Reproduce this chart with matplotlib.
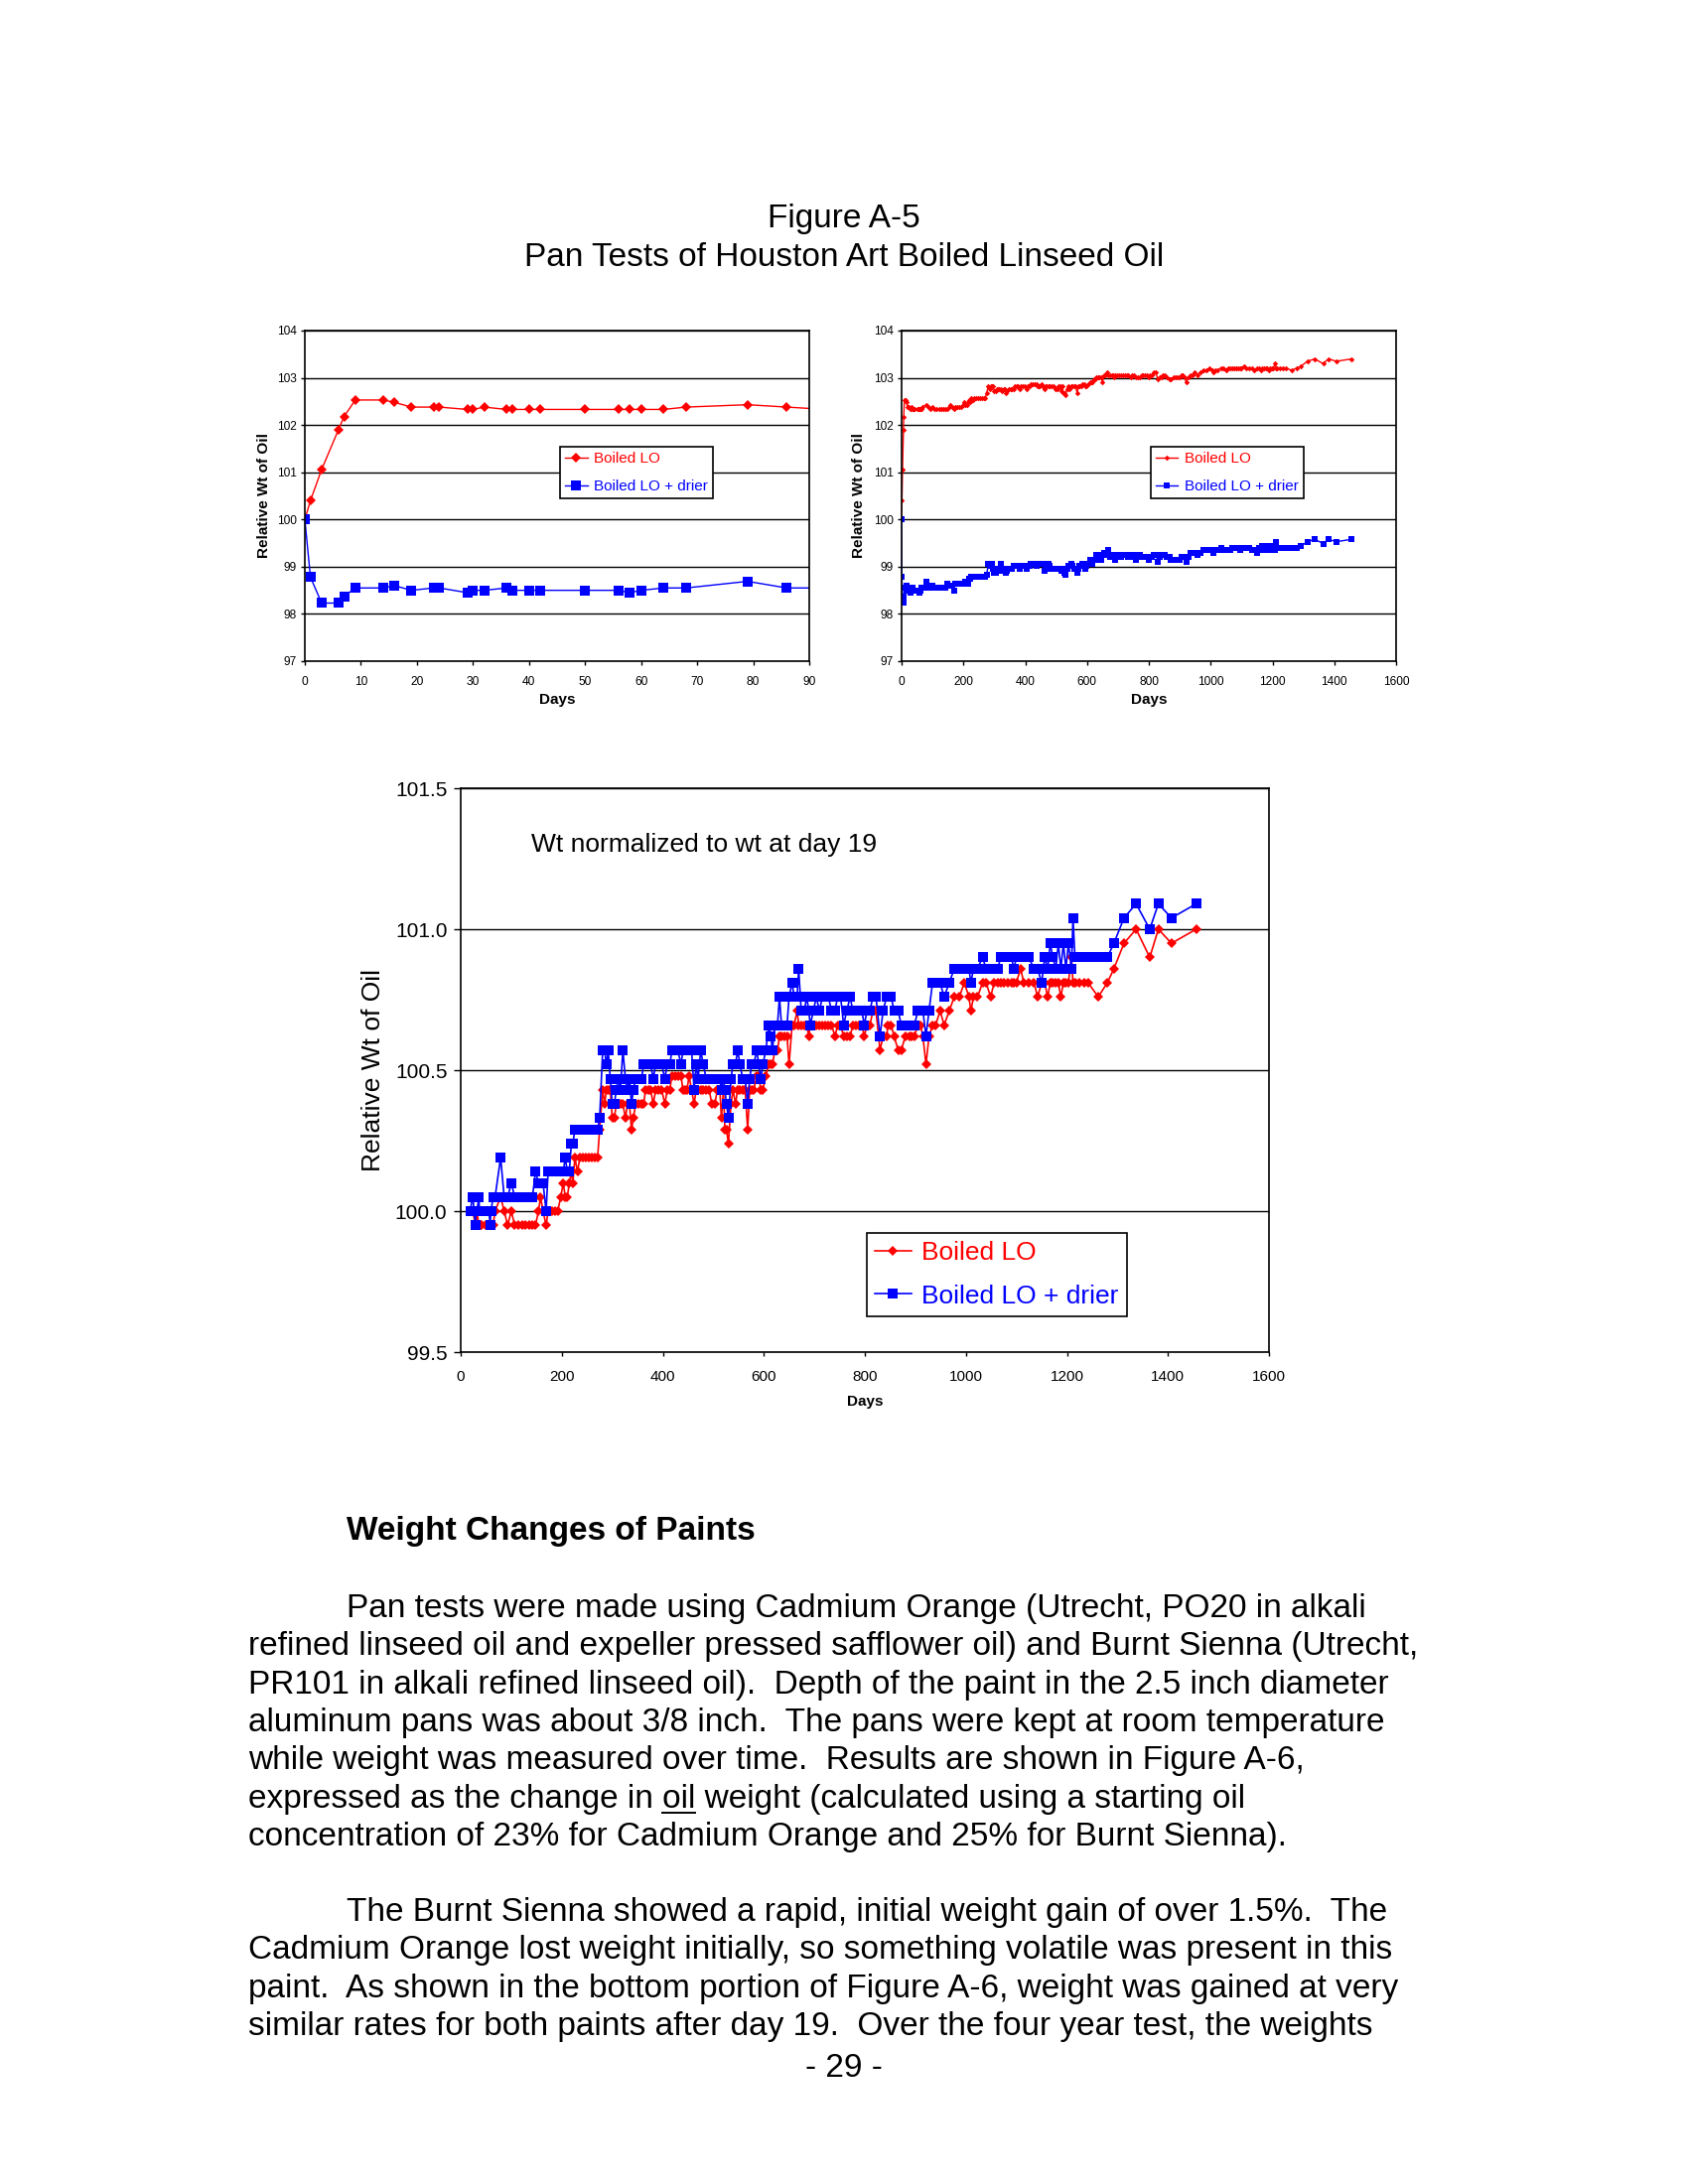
import matplotlib
matplotlib.use('Agg')
import matplotlib.pyplot as plt
from matplotlib.lines import Line2D

plt.rcParams['font.family'] = ['Liberation Sans', 'DejaVu Sans']

# early readings (days 0-16), only in the top charts
days_early = [0, 1, 3, 6, 7, 9, 14, 16]
red_early = [100.0, 100.40, 101.06, 101.90, 102.18, 102.53, 102.53, 102.48]
blue_early = [100.0, 98.78, 98.23, 98.23, 98.37, 98.55, 98.55, 98.60]

# readings from day 19 on
days = [
    19, 23, 24, 29, 30, 32, 36, 37, 40, 42,
    50, 56, 58, 60, 64, 68, 79, 86, 93, 100,
    107, 114, 121, 128, 135, 142, 148, 154, 158, 163,
    169, 173, 180, 186, 192, 198, 203, 207, 211, 215,
    219, 222, 226, 231, 236, 242, 248, 254, 260, 266,
    271, 275, 281, 285, 288, 292, 296, 300, 304, 308,
    312, 316, 321, 326, 330, 334, 338, 342, 346, 352,
    358, 362, 366, 372, 376, 381, 386, 392, 398, 404,
    409, 414, 418, 424, 430, 436, 440, 444, 448, 452,
    457, 462, 466, 470, 475, 480, 486, 492, 497, 503,
    508, 513, 516, 520, 523, 526, 530, 535, 539, 544,
    548, 553, 558, 563, 568, 572, 576, 580, 586, 590,
    594, 598, 604, 610, 614, 617, 622, 627, 631, 635,
    640, 646, 650, 656, 660, 666, 669, 674, 680, 685,
    689, 692, 698, 704, 710, 716, 722, 728, 734, 741,
    746, 752, 758, 764, 771, 776, 782, 788, 794, 799,
    804, 810, 816, 822, 830, 836, 843, 846, 852, 858,
    866, 872, 880, 888, 893, 898, 905, 910, 915, 921,
    927, 934, 940, 949, 957, 967, 977, 987, 997, 1006,
    1010, 1015, 1023, 1033, 1040, 1049, 1056, 1063, 1069, 1076,
    1083, 1090, 1095, 1100, 1108, 1115, 1124, 1135, 1142, 1150,
    1156, 1162, 1167, 1172, 1178, 1183, 1188, 1193, 1198, 1203,
    1209, 1212, 1216, 1225, 1234, 1242, 1262, 1280, 1293, 1313,
    1337, 1364, 1381, 1407, 1456,
]

# relative weight of oil (top charts)
red_raw = [
    102.38, 102.38, 102.38, 102.33, 102.33, 102.38, 102.33, 102.33, 102.33, 102.33,
    102.33, 102.33, 102.33, 102.33, 102.33, 102.38, 102.43, 102.38, 102.33, 102.38,
    102.33, 102.33, 102.33, 102.33, 102.33, 102.33, 102.33, 102.38, 102.43, 102.38,
    102.33, 102.38, 102.38, 102.38, 102.38, 102.43, 102.48, 102.43, 102.43, 102.48,
    102.52, 102.48, 102.57, 102.52, 102.57, 102.57, 102.57, 102.57, 102.57, 102.57,
    102.57, 102.68, 102.82, 102.77, 102.82, 102.82, 102.82, 102.72, 102.72, 102.77,
    102.77, 102.77, 102.77, 102.72, 102.77, 102.77, 102.68, 102.72, 102.77, 102.77,
    102.77, 102.77, 102.82, 102.82, 102.82, 102.77, 102.82, 102.82, 102.82, 102.77,
    102.82, 102.82, 102.87, 102.87, 102.87, 102.87, 102.82, 102.82, 102.82, 102.87,
    102.82, 102.77, 102.82, 102.82, 102.82, 102.82, 102.82, 102.82, 102.77, 102.77,
    102.82, 102.82, 102.72, 102.82, 102.68, 102.68, 102.63, 102.77, 102.82, 102.77,
    102.82, 102.82, 102.82, 102.82, 102.68, 102.82, 102.82, 102.82, 102.87, 102.87,
    102.82, 102.82, 102.87, 102.91, 102.91, 102.91, 102.96, 102.96, 103.01, 103.01,
    103.01, 103.01, 102.91, 103.06, 103.06, 103.11, 103.06, 103.06, 103.06, 103.06,
    103.01, 103.06, 103.06, 103.06, 103.06, 103.06, 103.06, 103.06, 103.06, 103.01,
    103.06, 103.06, 103.01, 103.01, 103.01, 103.06, 103.06, 103.06, 103.06, 103.01,
    103.06, 103.06, 103.11, 103.11, 102.96, 103.01, 103.01, 103.06, 103.06, 103.01,
    102.96, 102.96, 103.01, 103.01, 103.01, 103.01, 103.06, 103.06, 103.01, 102.91,
    103.01, 103.06, 103.06, 103.11, 103.06, 103.11, 103.16, 103.16, 103.21, 103.16,
    103.11, 103.16, 103.16, 103.21, 103.21, 103.16, 103.21, 103.21, 103.21, 103.21,
    103.21, 103.21, 103.21, 103.21, 103.25, 103.21, 103.21, 103.21, 103.16, 103.21,
    103.21, 103.16, 103.21, 103.21, 103.21, 103.21, 103.16, 103.21, 103.21, 103.21,
    103.30, 103.21, 103.21, 103.21, 103.21, 103.21, 103.16, 103.21, 103.25, 103.35,
    103.40, 103.30, 103.40, 103.35, 103.40,
]
blue_raw = [
    98.50, 98.55, 98.55, 98.45, 98.50, 98.50, 98.55, 98.50, 98.50, 98.50,
    98.50, 98.50, 98.45, 98.50, 98.55, 98.55, 98.69, 98.55, 98.55, 98.60,
    98.55, 98.55, 98.55, 98.55, 98.55, 98.55, 98.64, 98.60, 98.60, 98.60,
    98.50, 98.64, 98.64, 98.64, 98.64, 98.64, 98.64, 98.69, 98.64, 98.64,
    98.74, 98.74, 98.79, 98.79, 98.79, 98.79, 98.79, 98.79, 98.79, 98.79,
    98.79, 98.83, 99.06, 99.06, 99.01, 99.06, 98.96, 98.87, 98.87, 98.92,
    98.96, 98.92, 99.06, 98.96, 98.92, 98.96, 98.87, 98.92, 98.96, 98.96,
    98.96, 99.01, 99.01, 99.01, 99.01, 98.96, 99.01, 99.01, 99.01, 98.96,
    99.01, 99.01, 99.06, 99.06, 99.06, 99.01, 99.06, 99.06, 99.06, 99.06,
    99.06, 98.92, 99.01, 98.96, 99.06, 99.01, 98.96, 98.96, 98.96, 98.96,
    98.96, 98.96, 98.92, 98.96, 98.92, 98.87, 98.83, 98.96, 99.01, 99.01,
    99.06, 99.01, 98.96, 98.96, 98.87, 98.96, 99.01, 99.01, 99.06, 99.01,
    98.96, 99.01, 99.06, 99.15, 99.11, 99.06, 99.15, 99.15, 99.25, 99.15,
    99.15, 99.15, 99.25, 99.30, 99.25, 99.25, 99.35, 99.20, 99.20, 99.25,
    99.20, 99.15, 99.20, 99.25, 99.20, 99.25, 99.25, 99.25, 99.20, 99.20,
    99.25, 99.25, 99.15, 99.20, 99.25, 99.20, 99.20, 99.20, 99.20, 99.15,
    99.20, 99.20, 99.25, 99.25, 99.11, 99.20, 99.25, 99.25, 99.25, 99.20,
    99.20, 99.15, 99.15, 99.15, 99.15, 99.15, 99.20, 99.20, 99.20, 99.11,
    99.20, 99.30, 99.30, 99.30, 99.25, 99.30, 99.35, 99.35, 99.35, 99.35,
    99.30, 99.35, 99.35, 99.39, 99.35, 99.35, 99.35, 99.35, 99.39, 99.39,
    99.39, 99.39, 99.35, 99.39, 99.39, 99.39, 99.39, 99.35, 99.35, 99.30,
    99.39, 99.35, 99.44, 99.39, 99.35, 99.44, 99.35, 99.44, 99.35, 99.44,
    99.35, 99.53, 99.39, 99.39, 99.39, 99.39, 99.39, 99.39, 99.44, 99.53,
    99.58, 99.49, 99.58, 99.53, 99.58,
]

# weight normalized to day 19 (bottom chart)
red_norm = [
    100.00, 100.00, 100.00, 99.95, 99.95, 100.00, 99.95, 99.95, 99.95, 99.95,
    99.95, 99.95, 99.95, 99.95, 99.95, 100.00, 100.05, 100.00, 99.95, 100.00,
    99.95, 99.95, 99.95, 99.95, 99.95, 99.95, 99.95, 100.00, 100.05, 100.00,
    99.95, 100.00, 100.00, 100.00, 100.00, 100.05, 100.10, 100.05, 100.05, 100.10,
    100.14, 100.10, 100.19, 100.14, 100.19, 100.19, 100.19, 100.19, 100.19, 100.19,
    100.19, 100.29, 100.43, 100.38, 100.43, 100.43, 100.43, 100.33, 100.33, 100.38,
    100.38, 100.38, 100.38, 100.33, 100.38, 100.38, 100.29, 100.33, 100.38, 100.38,
    100.38, 100.38, 100.43, 100.43, 100.43, 100.38, 100.43, 100.43, 100.43, 100.38,
    100.43, 100.43, 100.48, 100.48, 100.48, 100.48, 100.43, 100.43, 100.43, 100.48,
    100.43, 100.38, 100.43, 100.43, 100.43, 100.43, 100.43, 100.43, 100.38, 100.38,
    100.43, 100.43, 100.33, 100.43, 100.29, 100.29, 100.24, 100.38, 100.43, 100.38,
    100.43, 100.43, 100.43, 100.43, 100.29, 100.43, 100.43, 100.43, 100.48, 100.48,
    100.43, 100.43, 100.48, 100.52, 100.52, 100.52, 100.57, 100.57, 100.62, 100.62,
    100.62, 100.62, 100.52, 100.66, 100.66, 100.71, 100.66, 100.66, 100.66, 100.66,
    100.62, 100.66, 100.66, 100.66, 100.66, 100.66, 100.66, 100.66, 100.66, 100.62,
    100.66, 100.66, 100.62, 100.62, 100.62, 100.66, 100.66, 100.66, 100.66, 100.62,
    100.66, 100.66, 100.71, 100.71, 100.57, 100.62, 100.62, 100.66, 100.66, 100.62,
    100.57, 100.57, 100.62, 100.62, 100.62, 100.62, 100.66, 100.66, 100.62, 100.52,
    100.62, 100.66, 100.66, 100.71, 100.66, 100.71, 100.76, 100.76, 100.81, 100.76,
    100.71, 100.76, 100.76, 100.81, 100.81, 100.76, 100.81, 100.81, 100.81, 100.81,
    100.81, 100.81, 100.81, 100.81, 100.86, 100.81, 100.81, 100.81, 100.76, 100.81,
    100.81, 100.76, 100.81, 100.81, 100.81, 100.81, 100.76, 100.81, 100.81, 100.81,
    100.90, 100.81, 100.81, 100.81, 100.81, 100.81, 100.76, 100.81, 100.86, 100.95,
    101.00, 100.90, 101.00, 100.95, 101.00,
]
blue_norm = [
    100.00, 100.05, 100.05, 99.95, 100.00, 100.00, 100.05, 100.00, 100.00, 100.00,
    100.00, 100.00, 99.95, 100.00, 100.05, 100.05, 100.19, 100.05, 100.05, 100.10,
    100.05, 100.05, 100.05, 100.05, 100.05, 100.05, 100.14, 100.10, 100.10, 100.10,
    100.00, 100.14, 100.14, 100.14, 100.14, 100.14, 100.14, 100.19, 100.14, 100.14,
    100.24, 100.24, 100.29, 100.29, 100.29, 100.29, 100.29, 100.29, 100.29, 100.29,
    100.29, 100.33, 100.57, 100.57, 100.52, 100.57, 100.47, 100.38, 100.38, 100.43,
    100.47, 100.43, 100.57, 100.47, 100.43, 100.47, 100.38, 100.43, 100.47, 100.47,
    100.47, 100.52, 100.52, 100.52, 100.52, 100.47, 100.52, 100.52, 100.52, 100.47,
    100.52, 100.52, 100.57, 100.57, 100.57, 100.52, 100.57, 100.57, 100.57, 100.57,
    100.57, 100.43, 100.52, 100.47, 100.57, 100.52, 100.47, 100.47, 100.47, 100.47,
    100.47, 100.47, 100.43, 100.47, 100.43, 100.38, 100.33, 100.47, 100.52, 100.52,
    100.57, 100.52, 100.47, 100.47, 100.38, 100.47, 100.52, 100.52, 100.57, 100.52,
    100.47, 100.52, 100.57, 100.66, 100.62, 100.57, 100.66, 100.66, 100.76, 100.66,
    100.66, 100.66, 100.76, 100.81, 100.76, 100.76, 100.86, 100.71, 100.71, 100.76,
    100.71, 100.66, 100.71, 100.76, 100.71, 100.76, 100.76, 100.76, 100.71, 100.71,
    100.76, 100.76, 100.66, 100.71, 100.76, 100.71, 100.71, 100.71, 100.71, 100.66,
    100.71, 100.71, 100.76, 100.76, 100.62, 100.71, 100.76, 100.76, 100.76, 100.71,
    100.71, 100.66, 100.66, 100.66, 100.66, 100.66, 100.71, 100.71, 100.71, 100.62,
    100.71, 100.81, 100.81, 100.81, 100.76, 100.81, 100.86, 100.86, 100.86, 100.86,
    100.81, 100.86, 100.86, 100.90, 100.86, 100.86, 100.86, 100.86, 100.90, 100.90,
    100.90, 100.90, 100.86, 100.90, 100.90, 100.90, 100.90, 100.86, 100.86, 100.81,
    100.90, 100.86, 100.95, 100.90, 100.86, 100.95, 100.86, 100.95, 100.86, 100.95,
    100.86, 101.04, 100.90, 100.90, 100.90, 100.90, 100.90, 100.90, 100.95, 101.04,
    101.09, 101.00, 101.09, 101.04, 101.09,
]

W, H = 1700, 2200
RED = '#ff0000'
BLUE = '#0000ff'

fig = plt.figure(figsize=(8.5, 11), dpi=200)
fig.patch.set_facecolor('white')


def box(x0, y0, x1, y1):
    # page pixels -> figure fraction
    return [x0 / W, 1 - y1 / H, (x1 - x0) / W, (y1 - y0) / H]


def put(x, y, s, **kw):
    kw.setdefault('va', 'center')
    return fig.text(x / W, 1 - y / H, s, **kw)


def style(ax, xticks, yticks):
    ax.set_xlim(xticks[0], xticks[-1])
    ax.set_ylim(yticks[0], yticks[-1])
    ax.set_xticks(xticks)
    ax.set_yticks(yticks)
    ax.yaxis.grid(True, color='black', lw=0.5)
    ax.set_axisbelow(True)
    for sp in ax.spines.values():
        sp.set_linewidth(0.6)


def add_legend(ax, x0, y0, fs, hl, pad, spacing):
    leg = ax.legend(loc='upper left', bbox_to_anchor=(x0, y0), fontsize=fs,
                    fancybox=False, edgecolor='black', framealpha=1,
                    borderaxespad=0, handlelength=hl, handletextpad=0.4,
                    borderpad=pad, labelspacing=spacing, numpoints=1,
                    labelcolor='linecolor')
    leg.get_frame().set_linewidth(0.6)


all_days = days_early + days
red_all = red_early + red_raw
blue_all = blue_early + blue_raw

# top left: first 90 days
ax1 = fig.add_axes(box(307, 333, 815, 666))
ax1.plot(all_days, red_all, color=RED, lw=0.5, marker='D', ms=2.4, mew=0, label='Boiled LO')
ax1.plot(all_days, blue_all, color=BLUE, lw=0.5, marker='s', ms=3.6, mew=0, label='Boiled LO + drier')
style(ax1, list(range(0, 91, 10)), list(range(97, 105)))
ax1.tick_params(axis='y', labelsize=4.3, length=1.5, width=0.5, pad=1.5)
ax1.tick_params(axis='x', labelsize=4.3, length=1.5, width=0.5, pad=4)
add_legend(ax1, 0.506, 0.649, 5.5, 1.45, 0.35, 0.9)

# top right: whole test
ax2 = fig.add_axes(box(908, 333, 1406, 666))
ax2.plot(all_days, red_all, color=RED, lw=0.5, marker='D', ms=1.4, mew=0, label='Boiled LO')
ax2.plot(all_days, blue_all, color=BLUE, lw=0.5, marker='s', ms=2.1, mew=0, label='Boiled LO + drier')
style(ax2, list(range(0, 1601, 200)), list(range(97, 105)))
ax2.tick_params(axis='y', labelsize=4.3, length=1.5, width=0.5, pad=1.5)
ax2.tick_params(axis='x', labelsize=4.3, length=1.5, width=0.5, pad=4)
add_legend(ax2, 0.504, 0.649, 5.5, 1.45, 0.35, 0.9)

for cx in (266, 865):
    put(cx, 499, 'Relative Wt of Oil', ha='center', rotation=90, fontsize=5.5, fontweight='bold')
put(561, 705, 'Days', ha='center', fontsize=5.5, fontweight='bold')
put(1157, 705, 'Days', ha='center', fontsize=5.5, fontweight='bold')

# bottom: normalized to day 19
ax3 = fig.add_axes(box(464, 794, 1278, 1362))
ax3.plot(days, red_norm, color=RED, lw=0.6, marker='D', ms=2.3, mew=0, label='Boiled LO')
ax3.plot(days, blue_norm, color=BLUE, lw=0.6, marker='s', ms=3.3, mew=0, label='Boiled LO + drier')
style(ax3, list(range(0, 1601, 200)), [99.5, 100.0, 100.5, 101.0, 101.5])
ax3.set_yticklabels(['99.5', '100.0', '100.5', '101.0', '101.5'])
ax3.tick_params(axis='y', labelsize=7.5, length=2.4, width=0.5, pad=2.5)
ax3.tick_params(axis='x', labelsize=5.5, length=1.5, width=0.5, pad=5)
ax3.text(0.087, 0.9, 'Wt normalized to wt at day 19', transform=ax3.transAxes,
         fontsize=9.5, va='center')
add_legend(ax3, 0.5025, 0.2113, 9.5, 1.4, 0.3, 0.75)
put(376, 1078, 'Relative Wt of Oil', ha='center', rotation=90, fontsize=9.5)
put(871, 1412, 'Days', ha='center', fontsize=5.5, fontweight='bold')

# page text
put(850, 221, 'Figure A-5', ha='center', fontsize=12)
put(850, 259, 'Pan Tests of Houston Art Boiled Linseed Oil', ha='center', fontsize=12)
put(349, 1543, 'Weight Changes of Paints', fontsize=12, fontweight='bold')

para1 = [
    'refined linseed oil and expeller pressed safflower oil) and Burnt Sienna (Utrecht,',
    'PR101 in alkali refined linseed oil).  Depth of the paint in the 2.5 inch diameter',
    'aluminum pans was about 3/8 inch.  The pans were kept at room temperature',
    'while weight was measured over time.  Results are shown in Figure A-6,',
    'expressed as the change in oil weight (calculated using a starting oil',
    'concentration of 23% for Cadmium Orange and 25% for Burnt Sienna).',
]
para2 = [
    'Cadmium Orange lost weight initially, so something volatile was present in this',
    'paint.  As shown in the bottom portion of Figure A-6, weight was gained at very',
    'similar rates for both paints after day 19.  Over the four year test, the weights',
]
put(349, 1620, 'Pan tests were made using Cadmium Orange (Utrecht, PO20 in alkali', fontsize=12)
for i, line in enumerate(para1):
    put(250, 1659 + i * 38.3, line, fontsize=12)
put(349, 1926, 'The Burnt Sienna showed a rapid, initial weight gain of over 1.5%.  The', fontsize=12)
for i, line in enumerate(para2):
    put(250, 1965 + i * 38.3, line, fontsize=12)
put(850, 2083, '- 29 -', ha='center', fontsize=12)

# underline "oil" in line 5 of the first paragraph
fig.canvas.draw()
rend = fig.canvas.get_renderer()


def text_width(s):
    t = fig.text(0, 0, s, fontsize=12)
    w = t.get_window_extent(rend).width
    t.remove()
    return w


x_end = 250 + text_width('expressed as the change in oil')
x_start = x_end - text_width('oil')
fig.add_artist(Line2D([x_start / W, x_end / W], [1 - 1826 / H] * 2, color='black', lw=0.7))

fig.savefig('out.png', dpi=200)
